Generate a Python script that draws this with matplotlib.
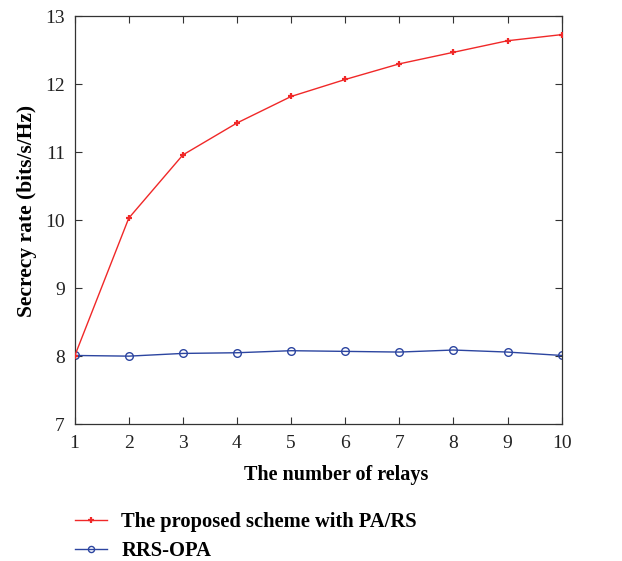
import matplotlib
matplotlib.use('Agg')
import matplotlib.pyplot as plt

relays = [1, 2, 3, 4, 5, 6, 7, 8, 9, 10]
proposed = [8.0, 10.03, 10.96, 11.43, 11.82, 12.07, 12.30, 12.47, 12.64, 12.73]
rrs_opa = [8.01, 8.0, 8.04, 8.05, 8.08, 8.07, 8.06, 8.09, 8.06, 8.01]
labels = ['The proposed scheme with PA/RS', 'RRS-OPA']

plt.rcParams['font.family'] = ['Liberation Serif', 'DejaVu Serif']

fig = plt.figure(figsize=(6.22, 5.61), dpi=100)
ax = fig.add_axes([0.120, 0.244, 0.783, 0.727])

l1, = ax.plot(relays, proposed, color='#f02828', lw=1.0, marker='+',
              markersize=5, markeredgewidth=1.6, zorder=3)
l2, = ax.plot(relays, rrs_opa, color='#2c45a0', lw=1.0, marker='o',
              markersize=5.5, markerfacecolor='none', markeredgewidth=1.0, zorder=2)

ax.set_xlim(1, 10)
ax.set_ylim(7, 13)
ax.set_xticks(relays)
ax.set_yticks(range(7, 14))
ax.tick_params(direction='in', top=True, right=True, labelsize=14, length=5,
               width=0.8, colors='#333333', labelcolor='#222222')
ax.tick_params(axis='x', pad=8)
ax.tick_params(axis='y', pad=7)
for s in ax.spines.values():
    s.set_color('#333333')
    s.set_linewidth(0.9)

ax.set_xlabel('The number of relays', fontsize=14.5, fontweight='bold')
ax.set_ylabel('Secrecy rate (bits/s/Hz)', fontsize=15.5, fontweight='bold')
ax.xaxis.set_label_coords(0.538, -0.10)
ax.yaxis.set_label_coords(-0.078, 0.522)

fig.legend([l1, l2], labels, loc='upper left', bbox_to_anchor=(0.108, 0.1016),
           frameon=False, prop={'weight': 'bold', 'size': 14.8},
           handlelength=1.56, handletextpad=0.68, labelspacing=0.45,
           borderaxespad=0, markerscale=0.8)

fig.savefig('out.png', dpi=100, facecolor='white')
